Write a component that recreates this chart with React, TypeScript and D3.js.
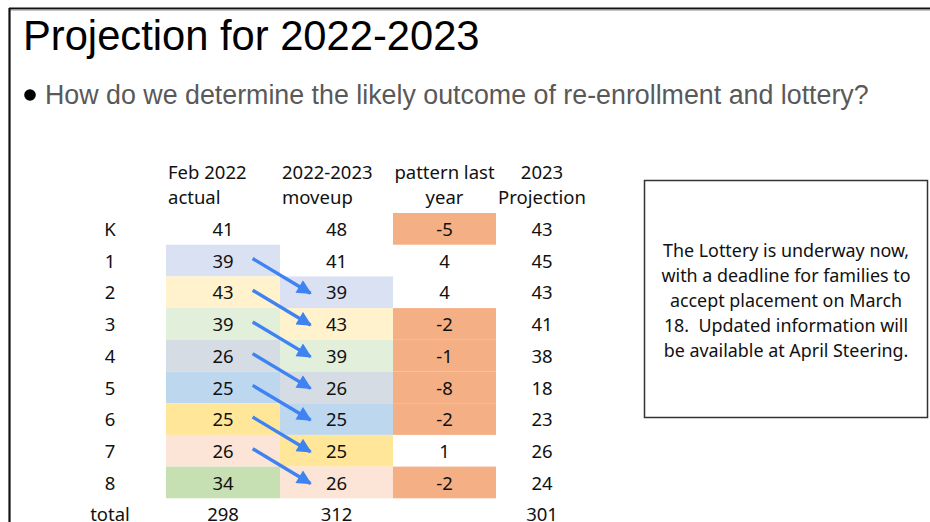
import React from "react";
import * as d3 from "d3";

const title = "Projection for 2022-2023";
const bullet = "How do we determine the likely outcome of re-enrollment and lottery?";
const rowLabels = ["K", "1", "2", "3", "4", "5", "6", "7", "8", "total"];
const headers = [
  ["Feb 2022", "actual"],
  ["2022-2023", "moveup"],
  ["pattern last", "year"],
  ["2023", "Projection"],
];
const febActual = [41, 39, 43, 39, 26, 25, 25, 26, 34];
const moveup = [48, 41, 39, 43, 39, 26, 25, 25, 26];
const pattern = [-5, 4, 4, -2, -1, -8, -2, 1, -2];
const projection = [43, 45, 43, 41, 38, 18, 23, 26, 24];
const totals = [298, 312, null, 301];
// colour per grade cohort (grade index -> colour), used in actual and shifted in moveup
const cohortColors = [null, "#D9E1F2", "#FFF2CC", "#E2EFDA", "#D6DCE4", "#BDD7EE", "#FFE699", "#FCE4D6", "#C6E0B4"];
const noteLines = [
  "The Lottery is underway now,",
  "with a deadline for families to",
  "accept placement on March",
  "18.  Updated information will",
  "be available at April Steering.",
];

const W = 930;
const H = 522;
const FONT = "'Noto Sans', 'Open Sans', sans-serif";
const ARIAL = "'Liberation Sans', Arial, sans-serif";

export default function App() {
  const rowH = 31.7;
  const y = d3.scaleBand<string>().domain(rowLabels).range([213, 213 + rowH * rowLabels.length]);
  const colEdges = [166, 280, 393, 496, 590];
  const colX0 = (i: number) => colEdges[i];
  const colW = (i: number) => colEdges[i + 1] - colEdges[i];
  const colC = (i: number) => colX0(i) + colW(i) / 2;
  const labelX = 110;
  const fs = 18.5;
  const baseOff = 23;
  const projShift = -1;

  const cols = [febActual, moveup, pattern, projection];

  return (
    <svg width={W} height={H} style={{ position: "absolute", left: 0, top: 0, background: "#fff" }}>
      <defs>
        <marker id="ah" viewBox="0 0 10 10" refX="9" refY="5" markerWidth="4.8" markerHeight="4.3" orient="auto" markerUnits="strokeWidth">
          <path d="M0,0 L10,5 L0,10 z" fill="#3F83F2" />
        </marker>
      </defs>
      {/* slide frame */}
      <line x1={9} x2={W} y1={8.5} y2={8.5} stroke="#111" strokeWidth={2.2} />
      <line x1={9} x2={W} y1={10.2} y2={10.2} stroke="#aaa" strokeWidth={1} />
      <line x1={9.5} x2={9.5} y1={8} y2={H} stroke="#111" strokeWidth={2.2} />

      <text x={23} y={50} fontFamily={ARIAL} fontSize={41.7} fill="#000">{title}</text>
      <circle cx={30} cy={95} r={5.8} fill="#000" />
      <text x={45} y={104} fontFamily={ARIAL} fontSize={26.8} fill="#595959">{bullet}</text>

      {/* cell backgrounds */}
      {febActual.map((_, i) =>
        cohortColors[i] ? (
          <rect key={"fa" + i} x={colX0(0)} y={y(rowLabels[i])!} width={colW(0)} height={y.bandwidth()} fill={cohortColors[i]!} />
        ) : null
      )}
      {moveup.map((_, i) =>
        i >= 2 && cohortColors[i - 1] ? (
          <rect key={"mu" + i} x={colX0(1)} y={y(rowLabels[i])!} width={colW(1)} height={y.bandwidth()} fill={cohortColors[i - 1]!} />
        ) : null
      )}
      {pattern.map((v, i) =>
        v < 0 ? (
          <rect key={"pt" + i} x={colX0(2)} y={y(rowLabels[i])!} width={colW(2)} height={y.bandwidth()} fill="#F4B084" />
        ) : null
      )}

      {/* headers */}
      {headers.map((h, ci) => {
        const anchor = ci < 2 ? "start" : "middle";
        const x = ci < 2 ? colX0(ci) + 2 : colC(ci) + (ci === 3 ? projShift : 0);
        return (
          <g key={"h" + ci} fontFamily={FONT} fontSize={fs} fill="#111" textAnchor={anchor}>
            <text x={x} y={179}>{h[0]}</text>
            <text x={x} y={204}>{h[1]}</text>
          </g>
        );
      })}

      {/* row labels */}
      {rowLabels.map((r) => (
        <text key={"rl" + r} x={labelX} y={y(r)! + baseOff} fontFamily={FONT} fontSize={fs} fill="#111" textAnchor="middle">{r}</text>
      ))}

      {/* values */}
      {cols.map((vals, ci) =>
        vals.map((v, i) => (
          <text key={"v" + ci + "-" + i} x={colC(ci) + (ci === 3 ? projShift : 0)} y={y(rowLabels[i])! + baseOff} fontFamily={FONT} fontSize={fs} fill="#111" textAnchor="middle">{v}</text>
        ))
      )}
      {totals.map((t, ci) =>
        t === null ? null : (
          <text key={"t" + ci} x={colC(ci) + (ci === 3 ? projShift : 0)} y={y("total")! + baseOff} fontFamily={FONT} fontSize={fs} fill="#111" textAnchor="middle">{t}</text>
        )
      )}

      {/* arrows from actual grade to next grade moveup */}
      {febActual.slice(1, 8).map((_, k) => {
        const i = k + 1;
        const y0 = y(rowLabels[i])! + y.bandwidth() / 2 - 2;
        const y1 = y(rowLabels[i + 1])! + y.bandwidth() / 2 + 1;
        const x0 = colX0(0) + colW(0) * 0.76;
        const x1 = colX0(1) + colW(1) * 0.27;
        return (
          <line key={"ar" + i} x1={x0} y1={y0} x2={x1} y2={y1} stroke="#3F83F2" strokeWidth={3.4} markerEnd="url(#ah)" />
        );
      })}

      {/* note box */}
      <rect x={644.5} y={180.5} width={283} height={237} fill="none" stroke="#333" strokeWidth={1.5} />
      {noteLines.map((l, i) => (
        <text key={"n" + i} x={786} y={256.5 + i * 25} fontFamily={FONT} fontSize={17.9} fill="#111" textAnchor="middle" style={{ whiteSpace: "pre" }}>{l}</text>
      ))}
    </svg>
  );
}
